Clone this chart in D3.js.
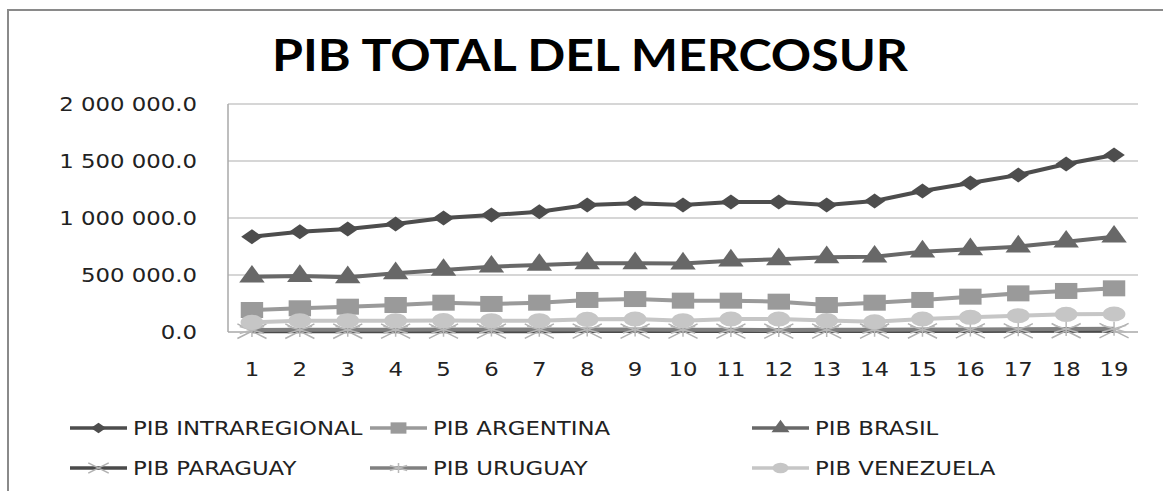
<!DOCTYPE html>
<html>
<head>
<meta charset="utf-8">
<script src="https://cdn.jsdelivr.net/npm/d3@7"></script>
<style>
  body { margin: 0; background: #fff; }
  text { font-family: "DejaVu Sans", Verdana, sans-serif; fill: #222; }
</style>
</head>
<body>
<div id="chart"></div>
<script>
// PIB total del Mercosur - line chart

const width = 1163;
const height = 491;
const margin = {left: 228, right: 25, top: 104, bottom: 159};

// data
const years = d3.range(1, 20);
const yTicks = [0, 500000, 1000000, 1500000, 2000000];
const seriesNames = ["PIB INTRAREGIONAL", "PIB ARGENTINA", "PIB BRASIL",
                     "PIB PARAGUAY", "PIB URUGUAY", "PIB VENEZUELA"];
const intraregional = [836000, 880000, 904000, 947000, 1000000, 1026000, 1055000, 1114000, 1129000, 1114000,
                       1140000, 1140000, 1114000, 1149000, 1237000, 1307000, 1377000, 1474000, 1553000];
const argentina = [193000, 208000, 222000, 237000, 257000, 246000, 257000, 281000, 289000, 275000,
                   275000, 266000, 237000, 257000, 281000, 310000, 339000, 360000, 383000];
const brasil = [485000, 491000, 480000, 515000, 544000, 573000, 588000, 603000, 603000, 600000,
                626000, 638000, 655000, 661000, 705000, 725000, 749000, 792000, 836000];
const paraguay = [7000, 7000, 7000, 7500, 7500, 7500, 7500, 8000, 8000, 8000,
                  8000, 8000, 8000, 8500, 9000, 9500, 10000, 11000, 12000];
const uruguay = [18000, 19000, 20000, 20000, 21000, 22000, 21000, 22000, 22000, 20000,
                 19000, 18000, 19000, 20000, 21000, 23000, 25000, 27000, 29000];
const venezuela = [85000, 99000, 99000, 99000, 100000, 99000, 99000, 111000, 114000, 99000,
                   114000, 114000, 100000, 90000, 114000, 129000, 143000, 155000, 158000];

// styles for each series (order = drawing order)
const styles = [
  {values: intraregional, line: "#4d4d4d", mark: "#4d4d4d", type: d3.symbolDiamond, size: 64, sx: 2.5, fill: true},
  {values: argentina, line: "#9a9a9a", mark: "#9a9a9a", type: d3.symbolSquare, size: 256, sx: 1.4, fill: true},
  {values: brasil, line: "#686868", mark: "#686868", type: d3.symbolTriangle, size: 180, sx: 1.25, fill: true},
  {values: paraguay, line: "#4a4a4a", mark: "#b0b0b0", type: d3.symbolX, size: 140, sx: 2.0, fill: false},
  {values: uruguay, line: "#808080", mark: "#b8b8b8", type: d3.symbolAsterisk, size: 140, sx: 2.0, fill: false},
  {values: venezuela, line: "#c6c6c6", mark: "#c6c6c6", type: d3.symbolCircle, size: 180, sx: 1.5, fill: true}
];

const stretch = 1.2; // text in the picture is widened

const svg = d3.select("#chart")
  .append("svg")
  .attr("width", width)
  .attr("height", height);

svg.append("rect").attr("width", width).attr("height", height).attr("fill", "#fff");

// outer chart border
svg.append("path")
  .attr("d", `M8,${height} V10 H${width}`)
  .attr("fill", "none")
  .attr("stroke", "#8a8a8a")
  .attr("stroke-width", 2);

// title
svg.append("text")
  .attr("x", 590)
  .attr("y", 71)
  .attr("text-anchor", "middle")
  .attr("textLength", 636)
  .attr("lengthAdjust", "spacingAndGlyphs")
  .style("font-family", "Lato, 'Open Sans', sans-serif")
  .style("font-weight", "bold")
  .style("font-size", "43px")
  .style("fill", "#000")
  .text("PIB TOTAL DEL MERCOSUR");

/*
  Axes
*/
const xScale = d3.scaleBand()
  .domain(years)
  .range([margin.left, width - margin.right]);

const xPos = i => xScale(years[i]) + xScale.bandwidth() / 2;

const yScale = d3.scaleLinear()
  .domain([0, 2000000])
  .range([height - margin.bottom, margin.top]);

const fmt = d3.formatLocale({decimal: ".", thousands: " ", grouping: [3], currency: ["", ""]}).format(",.1f");

// gridlines
svg.append("g")
  .selectAll("line")
  .data(yTicks.slice(1))
  .join("line")
    .attr("x1", margin.left)
    .attr("x2", width - margin.right)
    .attr("y1", d => yScale(d))
    .attr("y2", d => yScale(d))
    .attr("stroke", "#c8c8c8")
    .attr("stroke-width", 1.5);

// axis lines
svg.append("line")
  .attr("x1", margin.left).attr("x2", margin.left)
  .attr("y1", yScale(2000000)).attr("y2", yScale(0))
  .attr("stroke", "#a8a8a8").attr("stroke-width", 1.5);
svg.append("line")
  .attr("x1", margin.left).attr("x2", width - margin.right)
  .attr("y1", yScale(0)).attr("y2", yScale(0))
  .attr("stroke", "#a8a8a8").attr("stroke-width", 1.5);

// y tick labels
svg.append("g")
  .selectAll("text")
  .data(yTicks)
  .join("text")
    .attr("transform", d => `translate(197,${yScale(d)}) scale(${stretch},1)`)
    .attr("text-anchor", "end")
    .attr("dy", "0.36em")
    .style("font-size", "19px")
    .text(d => fmt(d));

// x tick labels
svg.append("g")
  .selectAll("text")
  .data(years)
  .join("text")
    .attr("transform", d => `translate(${xScale(d) + xScale.bandwidth() / 2},376) scale(${stretch},1)`)
    .attr("text-anchor", "middle")
    .style("font-size", "19px")
    .text(d => d);

/*
  Lines and markers
*/
const line = d3.line()
  .x((d, i) => xPos(i))
  .y(d => yScale(d));

styles.forEach(s => {
  const g = svg.append("g");
  g.append("path")
    .datum(s.values)
    .attr("d", line)
    .attr("fill", "none")
    .attr("stroke", s.line)
    .attr("stroke-width", 4)
    .attr("stroke-linejoin", "round");

  g.selectAll("path.mark")
    .data(s.values)
    .join("path")
      .attr("class", "mark")
      .attr("d", d3.symbol(s.type, s.size))
      .attr("transform", (d, i) => `translate(${xPos(i)},${yScale(d)}) scale(${s.sx},1)`)
      .attr("fill", s.fill ? s.mark : "none")
      .attr("stroke", s.fill ? "none" : s.mark)
      .attr("stroke-width", 1.5)
      .attr("vector-effect", "non-scaling-stroke");
});

/*
  Legend
*/
const legendX = [70, 370, 752];
const legendY = [428, 468];

seriesNames.forEach((name, i) => {
  const s = styles[i];
  const lx = legendX[i % 3];
  const ly = legendY[Math.floor(i / 3)];
  const g = svg.append("g");
  g.append("line")
    .attr("x1", lx).attr("x2", lx + 57)
    .attr("y1", ly).attr("y2", ly)
    .attr("stroke", s.line)
    .attr("stroke-width", 3.5);
  g.append("path")
    .attr("d", d3.symbol(s.type, s.size * 0.5))
    .attr("transform", `translate(${lx + 28.5},${ly}) scale(${s.sx},1)`)
    .attr("fill", s.fill ? s.mark : "none")
    .attr("stroke", s.fill ? "none" : s.mark)
    .attr("stroke-width", 1.5)
    .attr("vector-effect", "non-scaling-stroke");
  g.append("text")
    .attr("transform", `translate(${lx + 63},${ly}) scale(${stretch},1)`)
    .attr("dy", "0.36em")
    .style("font-size", "19px")
    .text(name);
});
</script>
</body>
</html>
